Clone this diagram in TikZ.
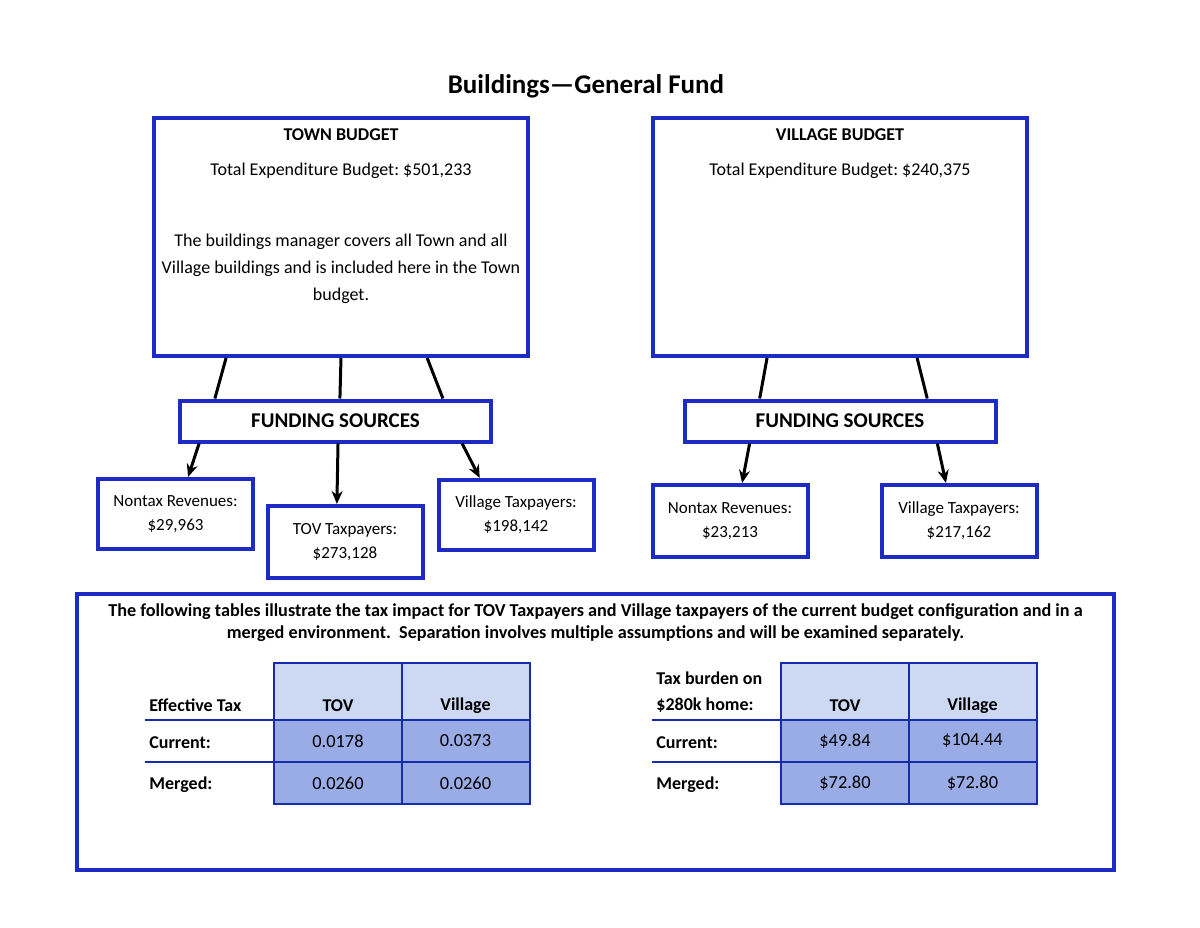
\documentclass[tikz,border=0pt]{standalone}
\usepackage{fontspec}
\setmainfont{Carlito}
\usetikzlibrary{arrows.meta, positioning, calc}
\frenchspacing

\definecolor{boxblue}{RGB}{30,42,196}
\definecolor{gridblue}{RGB}{22,44,170}
\definecolor{headfill}{RGB}{205,216,242}
\definecolor{datafill}{RGB}{153,172,229}

\begin{document}
\begin{tikzpicture}[
    x=0.5pt, y=-0.5pt,
    budget/.style={rectangle, draw=boxblue, line width=2pt, minimum width=187pt, minimum height=119pt, inner sep=0pt},
    funding/.style={rectangle, draw=boxblue, line width=2pt, minimum width=155.5pt, minimum height=20.5pt, font=\fontsize{10.5}{12}\selectfont\bfseries},
    source/.style={rectangle, draw=boxblue, line width=2pt, minimum width=77.5pt, minimum height=35pt, inner sep=0pt},
    srctext/.style={align=center, font=\fontsize{8.5}{12}\selectfont},
    bodytext/.style={align=center, font=\fontsize{9}{13.5}\selectfont},
    headcell/.style={rectangle, draw=gridblue, line width=1pt, fill=headfill, minimum width=64pt, minimum height=28.5pt, inner sep=0pt},
    datacell/.style={rectangle, draw=gridblue, line width=1pt, fill=datafill, minimum width=64pt, minimum height=21pt, inner sep=0pt, font=\fontsize{9.2}{11}\selectfont},
    rowlabel/.style={anchor=west, inner sep=0pt, align=left, font=\fontsize{9}{13}\selectfont\bfseries},
    link/.style={line width=1.5pt},
    arrow/.style={line width=1.5pt, -{Stealth[length=6.5pt, width=5.5pt]}}
]
\useasboundingbox (0,0) rectangle (1200,927);

% Title
\node[font=\fontsize{13.5}{16}\selectfont\bfseries] (title) at (586,86) {Buildings—General Fund};

% Budget boxes
\node[budget] (town) at (341,237) {};
\node[bodytext, font=\fontsize{9}{11}\selectfont\bfseries] (townhd) at ($(town.north)+(0,19)$) {TOWN BUDGET};
\node[bodytext] (townexp) at ($(town.north)+(0,55)$) {Total Expenditure Budget: \$501,233};
\node[bodytext] (townnote) at ($(town.north)+(0,153)$) {The buildings manager covers all Town and all\\Village buildings and is included here in the Town\\budget.};

\node[budget] (village) at (840,237) {};
\node[bodytext, font=\fontsize{9}{11}\selectfont\bfseries] (villhd) at ($(village.north)+(0,19)$) {VILLAGE BUDGET};
\node[bodytext] (villexp) at ($(village.north)+(0,55)$) {Total Expenditure Budget: \$240,375};

% Funding sources
\node[funding] (tfund) at (335.5,421) {FUNDING SOURCES};
\node[funding] (vfund) at (840,421) {FUNDING SOURCES};

% Source boxes
\node[source] (tnontax) at (175.5,514) {};
\node[srctext] at (tnontax) {Nontax Revenues:\\\$29,963};
\node[source, minimum height=36pt] (ttov) at (345,542) {};
\node[srctext] at (ttov) {TOV Taxpayers:\\\$273,128};
\node[source] (tvill) at (516,515) {};
\node[srctext] at (tvill) {Village Taxpayers:\\\$198,142};
\node[source, minimum height=36pt] (vnontax) at (730,521) {};
\node[srctext] at (vnontax) {Nontax Revenues:\\\$23,213};
\node[source, minimum height=36pt] (vvill) at (959,521) {};
\node[srctext] at (vvill) {Village Taxpayers:\\\$217,162};

% Connections
\draw[link] ($(town.south west)!0.196!(town.south east)$) -- ($(tfund.north west)!0.117!(tfund.north east)$);
\draw[link] ($(town.south west)!0.5!(town.south east)$) -- ($(tfund.north west)!0.514!(tfund.north east)$);
\draw[link] ($(town.south west)!0.728!(town.south east)$) -- ($(tfund.north west)!0.841!(tfund.north east)$);
\draw[link] ($(village.south west)!0.307!(village.south east)$) -- ($(vfund.north west)!0.245!(vfund.north east)$);
\draw[link] ($(village.south west)!0.704!(village.south east)$) -- ($(vfund.north west)!0.777!(vfund.north east)$);

\draw[arrow] ($(tfund.south west)!0.067!(tfund.south east)$) -- ($(tnontax.north west)!0.579!(tnontax.north east)$);
\draw[arrow] ($(tfund.south west)!0.508!(tfund.south east)$) -- ($(ttov.north west)!0.449!(ttov.north east)$);
\draw[arrow] ($(tfund.south west)!0.902!(tfund.south east)$) -- ($(tvill.north west)!0.272!(tvill.north east)$);
\draw[arrow] ($(vfund.south west)!0.213!(vfund.south east)$) -- ($(vnontax.north west)!0.576!(vnontax.north east)$);
\draw[arrow] ($(vfund.south west)!0.809!(vfund.south east)$) -- ($(vvill.north west)!0.418!(vvill.north east)$);

% Tax impact panel
\node[rectangle, draw=boxblue, line width=2pt, minimum width=518.5pt, minimum height=138pt] (impact) at (595.5,732) {};
\node[align=center, font=\fontsize{9.1}{11}\selectfont\bfseries] (intro) at ($(impact.north)+(0,31)$) {The following tables illustrate the tax impact for TOV Taxpayers and Village taxpayers of the current budget configuration and in a\\merged environment.\ \ Separation involves multiple assumptions and will be examined separately.};

% Tables
\foreach \cx/\id/\hd/\cur/\mer in {338/lt/TOV/0.0178/0.0260, 465.5/lv/Village/0.0373/0.0260, 845/rt/TOV/\$49.84/\$72.80, 972.5/rv/Village/\$104.44/\$72.80} {
  \node[headcell] (\id-h) at (\cx,691.5) {};
  \node[font=\fontsize{9}{11}\selectfont\bfseries] at ($(\id-h.south)+(0,-15)$) {\hd};
  \node[datacell] (\id-c) at (\cx,741) {\cur};
  \node[datacell] (\id-m) at (\cx,783) {\mer};
}

\node[rowlabel] (leff) at (149,705) {Effective Tax};
\node[rowlabel] (lcur) at (149,743) {Current:};
\node[rowlabel] (lmer) at (149,785) {Merged:};
\node[rowlabel] (rburden) at (656,692) {Tax burden on\\\$280k home:};
\node[rowlabel] (rcur) at (656,743) {Current:};
\node[rowlabel] (rmer) at (656,785) {Merged:};

\coordinate (lrule1) at (145,720);
\coordinate (lrule2) at (145,762);
\coordinate (rrule1) at (652,720);
\coordinate (rrule2) at (652,762);
\draw[gridblue, line width=1pt] (lrule1) -- (lrule1 -| lt-h.west);
\draw[gridblue, line width=1pt] (lrule2) -- (lrule2 -| lt-c.west);
\draw[gridblue, line width=1pt] (rrule1) -- (rrule1 -| rt-h.west);
\draw[gridblue, line width=1pt] (rrule2) -- (rrule2 -| rt-c.west);

\end{tikzpicture}
\end{document}
